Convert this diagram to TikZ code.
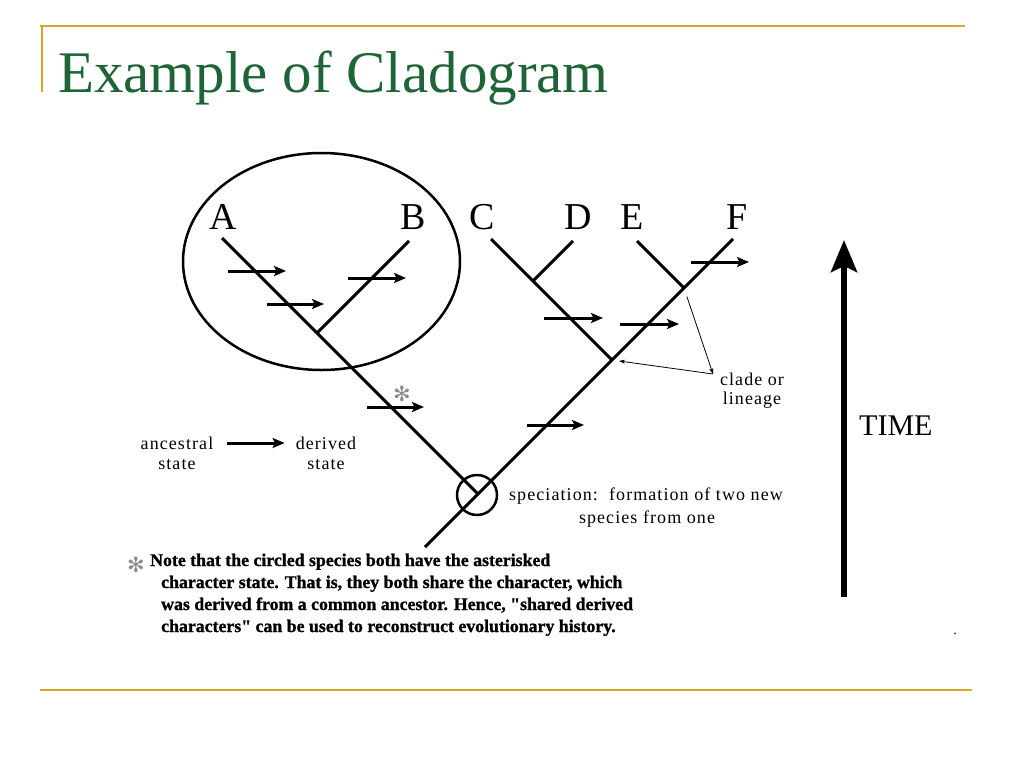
\documentclass[tikz,border=0pt]{standalone}
\usepackage{fontspec}
\setmainfont{Liberation Serif}
\newfontfamily\bmfont[LetterSpace=6]{Liberation Serif}
\newfontfamily\notefont[FakeBold=1.2]{Liberation Serif Bold}
\newfontfamily\symfont{DejaVu Sans}
\usetikzlibrary{arrows.meta}
\definecolor{gold}{RGB}{218,168,40}
\definecolor{titlegreen}{RGB}{30,100,55}
\begin{document}
\begin{tikzpicture}[x=1pt,y=-1pt,
  treeline/.style={line width=3pt},
  statearrow/.style={line width=3pt,-{Stealth[length=12pt,width=10pt,inset=2.5pt]}},
  leaf/.style={font=\fontsize{38}{38}\selectfont,anchor=base,inner sep=0pt},
  small/.style={font=\bmfont\fontsize{18}{18}\selectfont,inner sep=0pt},
  thinarrow/.style={line width=0.8pt,-{Stealth[length=6pt,width=4pt]}},
  astmark/.style={text=black!45,inner sep=0pt,font=\symfont\fontsize{21}{21}\selectfont},
  notetext/.style={font=\notefont\fontsize{17.8}{17.8}\selectfont,anchor=base west,inner sep=0pt}]

\useasboundingbox[fill=white] (0,0) rectangle (1024,768);

% slide frame
\draw[gold,line width=1.5pt] (40,26) -- (965,26);
\draw[gold,line width=2.5pt] (42,26) -- (42,92);
\draw[gold,line width=1.5pt] (40,690) -- (972,690);

\node[anchor=base west,inner sep=0pt,text=titlegreen,font=\fontsize{59}{59}\selectfont] (title) at (58,92) {Example of Cladogram};

% tree coordinates
\coordinate (root) at (425,547);
\coordinate (sp) at (478,494);
\coordinate (Ftop) at (733,239);
\coordinate (Atop) at (222,238);
\coordinate (Bn) at (317,333);
\coordinate (Btop) at (409,241);
\coordinate (Cn) at (612,360);
\coordinate (Ctop) at (491,239);
\coordinate (Dn) at (533,281);
\coordinate (Dtop) at (573,241);
\coordinate (En) at (684,288);
\coordinate (Etop) at (637,241);

\draw[treeline] (root) -- (Ftop);
\draw[treeline] (sp) -- (Atop);
\draw[treeline] (Bn) -- (Btop);
\draw[treeline] (Cn) -- (Ctop);
\draw[treeline] (Dn) -- (Dtop);
\draw[treeline] (En) -- (Etop);

% leaf labels
\node[leaf] (A) at (223,229) {A};
\node[leaf] (B) at (413,229) {B};
\node[leaf] (C) at (482,229) {C};
\node[leaf] (D) at (578,229) {D};
\node[leaf] (E) at (632,229) {E};
\node[leaf] (F) at (737,229) {F};

% clade ellipse and speciation circle
\draw[line width=2.5pt] (321.5,261.5) ellipse [x radius=138.5,y radius=108.5];
\node[circle,draw,line width=2.5pt,minimum size=40pt,inner sep=0pt] (spc) at (477,495) {};

% character state arrows
\draw[statearrow] (228,271) -- (286,271);
\draw[statearrow] (267,304) -- (324,304);
\draw[statearrow] (348,278) -- (406,278);
\draw[statearrow] (544,318) -- (603,318);
\draw[statearrow] (620,324) -- (679,324);
\draw[statearrow] (691,262) -- (749,262);
\draw[statearrow] (367,407) -- (424,407);
\draw[statearrow] (527,425) -- (584,425);
\node[astmark] (ast) at (402,394) {✻};

% legend
\node[small] (anc1) at (177,443) {ancestral};
\node[small] (anc2) at (177,465) {state};
\node[small] (der1) at (326,443) {derived};
\node[small] (der2) at (326,465) {state};
\draw[statearrow,shorten <=13pt,shorten >=11pt] (anc1.east) -- (der1.west);

% speciation label
\node[small] (spec1) at (646,496) {speciation:\ \ formation of two new};
\node[small] (spec2) at (647,519) {species from one};

% clade label
\node[small] (clade1) at (752,379) {clade or};
\node[small] (clade2) at (752,400) {lineage};
\coordinate (cj) at (713,374);
\draw[thinarrow,shorten <=9pt] (En) -- (cj);
\draw[thinarrow,shorten >=7pt] (cj) -- (Cn);

% time arrow
\coordinate (t0) at (844,597);
\coordinate (t1) at (844,240);
\draw[line width=6pt,-{Stealth[length=32pt,width=26pt,inset=6pt]}] (t0) -- (t1);
\node[anchor=base west,inner sep=0pt,font=\fontsize{30}{30}\selectfont] (time) at (859,435) {TIME};

% note
\node[astmark] (nast) at (136,565) {✻};
\node[notetext] (n1) at (150,566) {Note that the circled species both have the asterisked};
\node[notetext] (n2) at (161,588) {character state. That is, they both share the character, which};
\node[notetext] (n3) at (161,610) {was derived from a common ancestor. Hence, "shared derived};
\node[notetext] (n4) at (161,632) {characters" can be used to reconstruct evolutionary history.};

\node[inner sep=0pt,font=\fontsize{14}{14}\selectfont] (dot) at (955,634) {.};
\end{tikzpicture}
\end{document}
